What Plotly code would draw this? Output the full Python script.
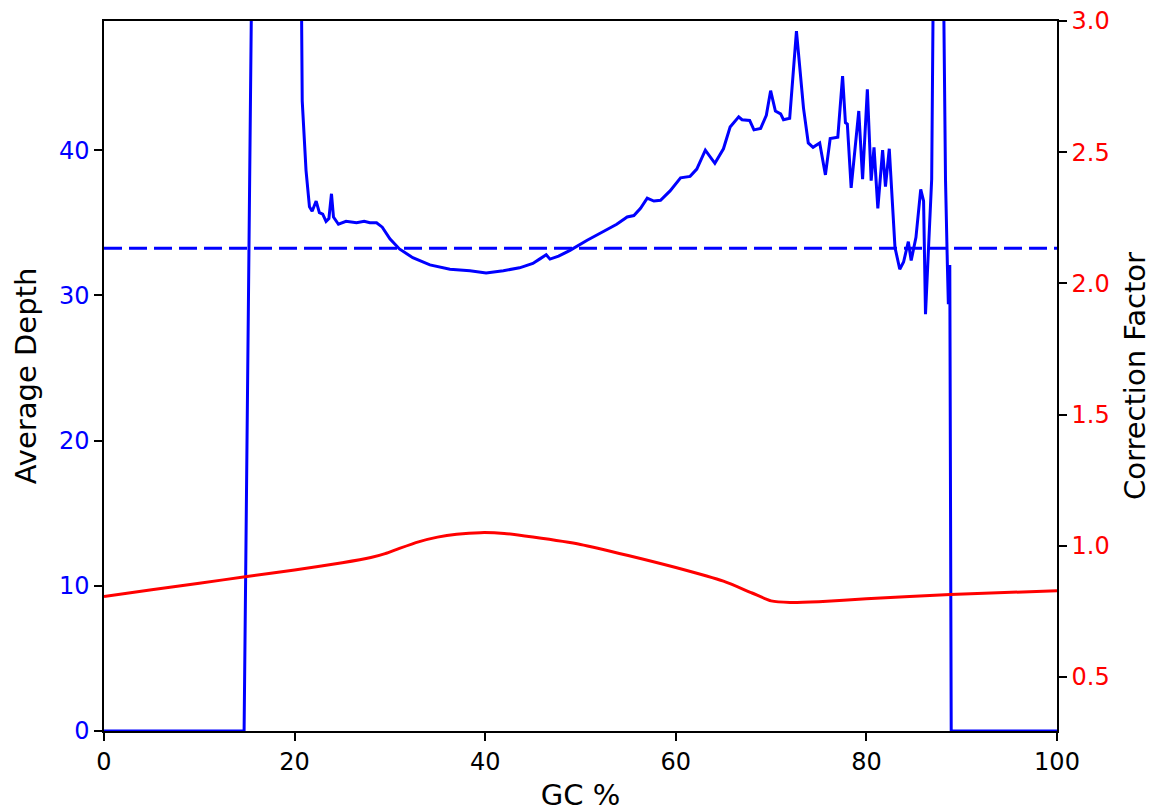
import plotly.graph_objects as go

# GC content (%) and mean read depth per GC bin
gc = [0, 14.7, 15.5, 16.5, 18, 19.5, 20.5, 20.8, 21.2, 21.56, 21.84, 22.26, 22.6, 22.95,
      23.3, 23.6, 23.87, 24.08, 24.6, 25.4, 26.5, 27.3, 27.9, 28.6, 29.2, 30.0, 31.0,
      32.4, 34.2, 36.3, 38.4, 40.1, 41.9, 43.6, 45.0, 45.7, 46.4, 46.8, 47.7, 48.9,
      50.7, 52.4, 53.8, 54.9, 55.6, 56.3, 57.0, 57.7, 58.4, 59.4, 60.5, 61.5, 62.2,
      63.1, 64.1, 65.0, 65.7, 66.6, 66.95, 67.75, 68.2, 68.9, 69.5, 69.95, 70.45,
      71.0, 71.3, 71.95, 72.66, 73.4, 73.9, 74.4, 75.1, 75.7, 76.2, 77.0, 77.5, 77.8,
      78.0, 78.4, 79.2, 79.6, 80.1, 80.5, 80.8, 81.2, 81.7, 82.0, 82.4, 83.0, 83.5,
      83.9, 84.4, 84.7, 85.2, 85.7, 86.0, 86.2, 86.85, 87.5, 88.3, 88.5, 88.6, 88.75,
      88.9, 100]
depth = [0, 0, 52, 120, 150, 110, 70, 43.4, 38.6, 36.1, 35.8, 36.5, 35.7, 35.6,
         35.1, 35.3, 37.0, 35.4, 34.9, 35.1, 35.0, 35.1, 35.0, 35.0, 34.7, 33.9, 33.2,
         32.6, 32.1, 31.8, 31.7, 31.55, 31.7, 31.9, 32.2, 32.5, 32.8, 32.5, 32.7, 33.1,
         33.8, 34.4, 34.9, 35.4, 35.5, 36.0, 36.7, 36.5, 36.55, 37.2, 38.1, 38.2, 38.7,
         40.0, 39.1, 40.1, 41.6, 42.3, 42.1, 42.05, 41.4, 41.5, 42.4, 44.1, 42.7,
         42.5, 42.1, 42.2, 48.2, 42.9, 40.5, 40.2, 40.5, 38.3, 40.8, 40.9, 45.1, 41.9,
         41.8, 37.4, 42.7, 38.0, 44.2, 37.9, 40.2, 36.0, 40.0, 37.5, 40.1, 33.3, 31.8,
         32.3, 33.7, 32.4, 34.0, 37.3, 36.5, 28.7, 38, 90, 38, 32.0, 29.4, 32.1,
         0, 0]

# Genome-wide mean depth
mean_depth = 33.25

# Smoothed correction factor per GC
gc_cf = [0, 5, 10, 15, 20, 25, 28, 29.5, 31, 33, 35, 37, 39.5, 42, 45, 50, 55, 60,
         65, 68, 70, 72, 75, 80, 88.8, 100]
cf = [0.807, 0.832, 0.857, 0.883, 0.908, 0.935, 0.955, 0.970, 0.990, 1.015, 1.033,
      1.044, 1.050, 1.047, 1.033, 1.005, 0.963, 0.917, 0.865, 0.820, 0.790, 0.784,
      0.787, 0.798, 0.814, 0.829]

FONT = "DejaVu Sans"
BLUE = "#0000ff"
RED = "#ff0000"

fig = go.Figure()
fig.add_trace(go.Scatter(x=gc, y=depth, mode="lines",
                         line=dict(color=BLUE, width=3), yaxis="y"))
fig.add_trace(go.Scatter(x=[0, 100], y=[mean_depth, mean_depth], mode="lines",
                         line=dict(color=BLUE, width=3, dash="18px,7px"), yaxis="y"))
fig.add_trace(go.Scatter(x=gc_cf, y=cf, mode="lines",
                         line=dict(color=RED, width=3, shape="spline", smoothing=0.6),
                         yaxis="y2"))

axis_common = dict(showline=True, linecolor="black", linewidth=1.5,
                   ticks="outside", ticklen=8, tickwidth=1.5, tickcolor="black",
                   showgrid=False, zeroline=False, automargin=False)

fig.update_layout(
    width=1152, height=812,
    margin=dict(l=104, r=95, t=21, b=81),
    paper_bgcolor="white", plot_bgcolor="white",
    showlegend=False,
    font=dict(family=FONT, size=24, color="black"),
    xaxis=dict(range=[0, 100], tickvals=[0, 20, 40, 60, 80, 100],
               title=dict(text="GC %", standoff=14), mirror=True, **axis_common),
    yaxis=dict(range=[0, 48.9], tickvals=[0, 10, 20, 30, 40],
               tickfont=dict(color=BLUE),
               title=dict(text="Average Depth", standoff=14), **axis_common),
    yaxis2=dict(range=[0.294, 3.0], tickvals=[0.5, 1.0, 1.5, 2.0, 2.5, 3.0],
                ticktext=["0.5", "1.0", "1.5", "2.0", "2.5", "3.0"],
                tickfont=dict(color=RED), overlaying="y", side="right",
                title=dict(text="Correction Factor", standoff=20), **axis_common),
)

fig.write_html("out.html")
